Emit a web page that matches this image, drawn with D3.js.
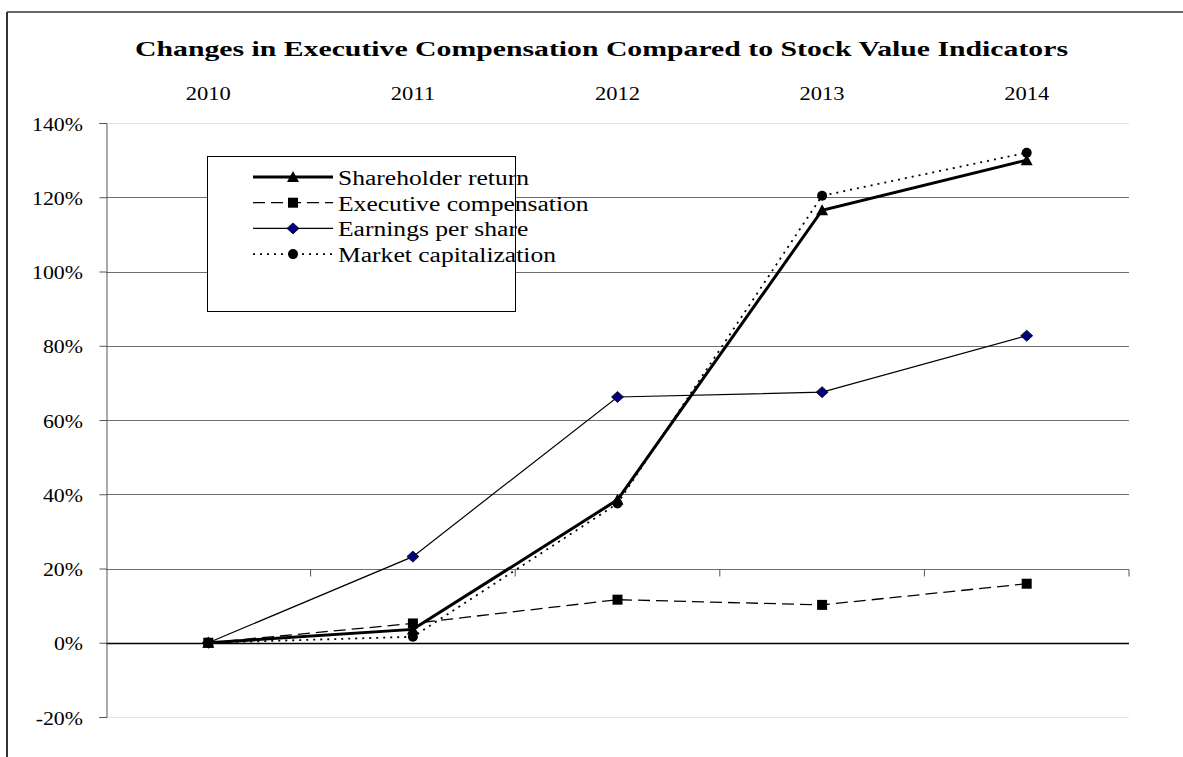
<!DOCTYPE html>
<html>
<head>
    <title>Executive Compensation vs Stock Value</title>
    <script src="https://d3js.org/d3.v7.min.js"></script>
    <style>
        body, html {
            margin: 0;
            padding: 0;
            width: 100%;
            height: 100%;
            overflow: hidden;
            background: white;
        }
        svg {
            display: block;
        }
        text {
            font-family: "Liberation Serif", "Times New Roman", serif;
            fill: black;
        }
    </style>
</head>
<body>
    <svg id="chart" width="1183" height="757"></svg>

    <script>
        // chart values
        const years = ["2010", "2011", "2012", "2013", "2014"];
        const shareholderReturn = [0, 3.6, 38.5, 116.5, 130];
        const executiveComp = [0, 5.2, 11.6, 10.2, 15.9];
        const earningsPerShare = [0, 23.2, 66.2, 67.5, 82.7];
        const marketCap = [0, 1.6, 37.5, 120.4, 132];
        const yTicks = [-20, 0, 20, 40, 60, 80, 100, 120, 140];

        const series = [
            { name: "Shareholder return", values: shareholderReturn, width: 3, dash: null, marker: "triangle" },
            { name: "Executive compensation", values: executiveComp, width: 1.3, dash: "12,6", marker: "square" },
            { name: "Earnings per share", values: earningsPerShare, width: 1.2, dash: null, marker: "diamond" },
            { name: "Market capitalization", values: marketCap, width: 1.8, dash: "2,5", marker: "circle" }
        ];

        // the original text is drawn wide, so stretch glyphs horizontally
        function stretch(sel, factor) {
            sel.each(function() {
                const w = this.getComputedTextLength();
                d3.select(this)
                    .attr("textLength", w * factor)
                    .attr("lengthAdjust", "spacingAndGlyphs");
            });
        }

        const svg = d3.select("#chart");

        // outer frame
        svg.append("line").attr("x1", 7).attr("x2", 1183).attr("y1", 12).attr("y2", 12)
            .attr("stroke", "#333").attr("stroke-width", 1.5);
        svg.append("line").attr("x1", 7).attr("x2", 7).attr("y1", 12).attr("y2", 757)
            .attr("stroke", "#333").attr("stroke-width", 2);

        const plotLeft = 106, plotRight = 1129, plotTop = 123, plotBottom = 717;

        const x = d3.scaleBand().domain(years).range([plotLeft, plotRight]);
        const y = d3.scaleLinear().domain([-20, 140]).range([plotBottom, plotTop]);

        // title
        const title = svg.append("text")
            .attr("x", 135).attr("y", 56)
            .style("font-size", "22px")
            .style("font-weight", "bold")
            .text("Changes in Executive Compensation Compared to Stock Value Indicators");
        title.attr("textLength", 933).attr("lengthAdjust", "spacingAndGlyphs");

        // year labels along the top
        const yearLabels = svg.selectAll(".year")
            .data(years)
            .enter().append("text")
            .attr("class", "year")
            .attr("x", d => x(d) + x.bandwidth() / 2)
            .attr("y", 100)
            .attr("text-anchor", "middle")
            .style("font-size", "19px")
            .text(d => d);
        stretch(yearLabels, 45 / yearLabels.node().getComputedTextLength());

        // gridlines
        svg.selectAll(".grid")
            .data(yTicks)
            .enter().append("line")
            .attr("class", "grid")
            .attr("x1", plotLeft).attr("x2", plotRight)
            .attr("y1", d => Math.round(y(d)) + 0.5)
            .attr("y2", d => Math.round(y(d)) + 0.5)
            .attr("stroke", d => d === 0 ? "#000" : (d === 140 || d === -20 ? "#e4e4e4" : "#6e6e6e"))
            .attr("stroke-width", d => d === 0 ? 1.3 : 1);

        // y axis
        const yAxis = d3.axisLeft(y)
            .tickValues(yTicks)
            .tickSize(7)
            .tickFormat(d => d + "%");
        const yg = svg.append("g")
            .attr("transform", `translate(${plotLeft + 0.5},0)`)
            .call(yAxis);
        yg.attr("font-family", null).attr("font-size", null);
        yg.select(".domain").attr("stroke", "#555");
        yg.selectAll(".tick line").attr("stroke", "#555");
        const yLabels = yg.selectAll(".tick text")
            .attr("x", -23.5)
            .attr("dy", "7px")
            .style("font-size", "19px")
            .style("font-family", "'Liberation Serif', serif");
        const ref = yLabels.filter(d => d === 140).node().getComputedTextLength();
        stretch(yLabels, 51 / ref);

        // category axis crossing at 20%, ticks pointing down
        const xg = svg.append("g")
            .attr("transform", `translate(0,${Math.round(y(20)) + 0.5})`);
        xg.selectAll("line")
            .data(years.slice(1).concat(["end"]))
            .enter().append("line")
            .attr("x1", (d, i) => x(years[0]) + x.step() * (i + 1))
            .attr("x2", (d, i) => x(years[0]) + x.step() * (i + 1))
            .attr("y1", 0).attr("y2", 7)
            .attr("stroke", "#555");

        const line = d3.line()
            .x((d, i) => x(years[i]) + x.bandwidth() / 2)
            .y(d => y(d));

        // series lines
        svg.selectAll(".series")
            .data(series)
            .enter().append("path")
            .attr("class", "series")
            .attr("d", d => line(d.values))
            .attr("fill", "none")
            .attr("stroke", "black")
            .attr("stroke-width", d => d.width)
            .attr("stroke-dasharray", d => d.dash);

        function drawMarker(g, type, cx, cy) {
            if (type === "triangle") {
                g.append("path")
                    .attr("d", `M${cx},${cy - 6} L${cx + 6},${cy + 5} L${cx - 6},${cy + 5} Z`)
                    .attr("fill", "black");
            } else if (type === "square") {
                g.append("rect")
                    .attr("x", cx - 5).attr("y", cy - 5)
                    .attr("width", 10).attr("height", 10)
                    .attr("fill", "black");
            } else if (type === "diamond") {
                g.append("path")
                    .attr("d", `M${cx},${cy - 5.5} L${cx + 6},${cy} L${cx},${cy + 5.5} L${cx - 6},${cy} Z`)
                    .attr("fill", "#000080")
                    .attr("stroke", "black")
                    .attr("stroke-width", 0.8);
            } else {
                g.append("circle")
                    .attr("cx", cx).attr("cy", cy).attr("r", 5)
                    .attr("fill", "black");
            }
        }

        // markers (draw from last series to first so triangles sit on top)
        const markers = svg.append("g");
        series.slice().reverse().forEach(s => {
            s.values.forEach((v, i) => {
                drawMarker(markers, s.marker, x(years[i]) + x.bandwidth() / 2, y(v));
            });
        });

        // legend
        const legend = svg.append("g");
        legend.append("rect")
            .attr("x", 207.5).attr("y", 156.5)
            .attr("width", 308).attr("height", 155)
            .attr("fill", "white")
            .attr("stroke", "black")
            .attr("stroke-width", 1);

        series.forEach((s, i) => {
            const ly = 177 + i * 25.7;
            legend.append("line")
                .attr("x1", 253).attr("x2", 333)
                .attr("y1", ly).attr("y2", ly)
                .attr("stroke", "black")
                .attr("stroke-width", s.width)
                .attr("stroke-dasharray", s.dash);
            drawMarker(legend, s.marker, 293, ly);
            legend.append("text")
                .attr("class", "legend-text")
                .attr("x", 338)
                .attr("y", ly + 8)
                .style("font-size", "20.5px")
                .text(s.name);
        });
        const legendTexts = legend.selectAll(".legend-text");
        stretch(legendTexts, 191 / legendTexts.node().getComputedTextLength());
    </script>
</body>
</html>
